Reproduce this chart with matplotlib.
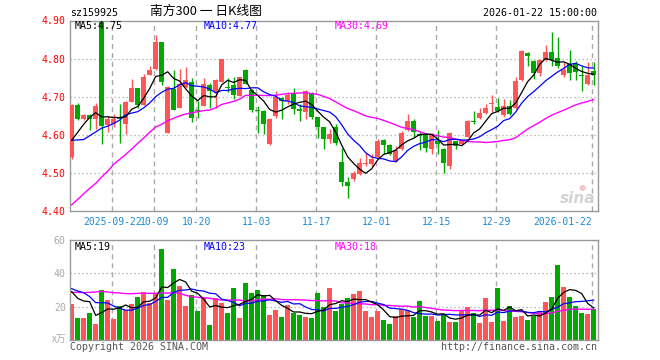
import matplotlib
matplotlib.use('Agg')
import matplotlib.pyplot as plt
import numpy as np
import pandas as pd

# ---------------- data ----------------
date_idx = [7, 14, 21, 31, 41, 51, 61, 71, 87]
date_labels = ['2025-09-22', '10-09', '10-20', '11-03', '11-17',
               '12-01', '12-15', '12-29', '2026-01-22']

open_ = [4.541, 4.679, 4.643, 4.652, 4.642, 4.895, 4.627, 4.628, 4.648, 4.628,
         4.687, 4.723, 4.679, 4.756, 4.774, 4.844, 4.604, 4.721, 4.672, 4.725,
         4.740, 4.666, 4.677, 4.731, 4.712, 4.738, 4.726, 4.730, 4.703, 4.769,
         4.718, 4.665, 4.664, 4.576, 4.649, 4.697, 4.690, 4.708, 4.667, 4.661,
         4.710, 4.646, 4.620, 4.589, 4.621, 4.530, 4.477, 4.485, 4.497, 4.525,
         4.525, 4.543, 4.587, 4.573, 4.530, 4.562, 4.614, 4.636, 4.602, 4.600,
         4.564, 4.583, 4.564, 4.519, 4.583, 4.577, 4.596, 4.636, 4.644, 4.657,
         4.680, 4.674, 4.652, 4.677, 4.671, 4.745, 4.815, 4.794, 4.762, 4.796,
         4.818, 4.803, 4.756, 4.787, 4.787, 4.757, 4.734, 4.767]
high = [4.680, 4.683, 4.655, 4.655, 4.683, 4.895, 4.650, 4.655, 4.681, 4.690,
        4.747, 4.723, 4.760, 4.782, 4.862, 4.844, 4.728, 4.769, 4.774, 4.778,
        4.749, 4.690, 4.749, 4.735, 4.747, 4.800, 4.749, 4.752, 4.752, 4.774,
        4.720, 4.677, 4.666, 4.644, 4.715, 4.700, 4.712, 4.723, 4.680, 4.718,
        4.712, 4.646, 4.620, 4.615, 4.628, 4.567, 4.490, 4.505, 4.540, 4.554,
        4.549, 4.589, 4.589, 4.576, 4.571, 4.610, 4.655, 4.642, 4.607, 4.605,
        4.604, 4.612, 4.566, 4.608, 4.585, 4.587, 4.640, 4.664, 4.672, 4.681,
        4.706, 4.697, 4.694, 4.692, 4.752, 4.822, 4.817, 4.796, 4.800, 4.835,
        4.870, 4.857, 4.791, 4.822, 4.795, 4.782, 4.791, 4.791]
low = [4.536, 4.640, 4.640, 4.614, 4.615, 4.576, 4.607, 4.620, 4.580, 4.602,
       4.687, 4.672, 4.679, 4.756, 4.770, 4.730, 4.604, 4.665, 4.672, 4.722,
       4.633, 4.645, 4.677, 4.672, 4.672, 4.738, 4.712, 4.694, 4.703, 4.734,
       4.660, 4.604, 4.602, 4.573, 4.645, 4.642, 4.680, 4.655, 4.637, 4.642,
       4.642, 4.592, 4.563, 4.578, 4.573, 4.466, 4.435, 4.479, 4.495, 4.518,
       4.516, 4.540, 4.549, 4.547, 4.528, 4.560, 4.610, 4.595, 4.560, 4.555,
       4.549, 4.549, 4.501, 4.512, 4.562, 4.573, 4.594, 4.628, 4.642, 4.654,
       4.659, 4.660, 4.646, 4.652, 4.668, 4.742, 4.782, 4.747, 4.755, 4.794,
       4.782, 4.775, 4.752, 4.743, 4.743, 4.715, 4.730, 4.730]
close = [4.679, 4.642, 4.652, 4.642, 4.677, 4.624, 4.643, 4.643, 4.642, 4.686,
         4.723, 4.679, 4.752, 4.769, 4.844, 4.738, 4.725, 4.665, 4.734, 4.743,
         4.644, 4.663, 4.734, 4.716, 4.743, 4.800, 4.724, 4.705, 4.752, 4.734,
         4.665, 4.663, 4.630, 4.642, 4.700, 4.690, 4.706, 4.668, 4.664, 4.715,
         4.646, 4.620, 4.589, 4.602, 4.580, 4.477, 4.466, 4.501, 4.527, 4.527,
         4.536, 4.583, 4.573, 4.549, 4.561, 4.604, 4.636, 4.607, 4.598, 4.565,
         4.602, 4.576, 4.527, 4.604, 4.570, 4.583, 4.636, 4.634, 4.657, 4.671,
         4.682, 4.664, 4.677, 4.655, 4.741, 4.820, 4.806, 4.763, 4.796, 4.818,
         4.796, 4.780, 4.769, 4.763, 4.765, 4.755, 4.756, 4.756]
volume = [21.6, 13.2, 13.2, 16.2, 9.6, 30.0, 24.0, 12.6, 20.4, 18.0,
          21.6, 25.8, 28.8, 22.0, 28.0, 54.6, 24.0, 42.6, 32.4, 20.4,
          27.0, 17.6, 25.0, 9.0, 25.0, 22.0, 16.0, 31.0, 13.0, 34.0,
          28.0, 30.0, 27.0, 15.0, 18.0, 14.0, 21.0, 16.0, 15.0, 14.0,
          13.0, 28.0, 20.0, 31.0, 17.4, 21.6, 25.2, 27.6, 29.4, 17.4,
          13.8, 17.4, 12.0, 9.6, 14.4, 18.4, 18.0, 13.8, 23.4, 14.4,
          14.4, 11.4, 15.0, 10.8, 10.8, 18.0, 19.8, 16.0, 10.2, 25.2,
          10.8, 31.2, 11.4, 20.4, 13.8, 14.4, 12.0, 14.4, 17.4, 22.8,
          25.8, 45.0, 31.8, 25.8, 20.4, 16.2, 15.6, 18.4]

# leading moving-average values (before a full window exists)
ma5_lead = [4.586, 4.607, 4.628, 4.646]
ma10_lead = [4.586, 4.587, 4.588, 4.598, 4.608, 4.618, 4.623, 4.630, 4.639]
ma30_lead = [4.417, 4.431, 4.446, 4.460, 4.473, 4.490, 4.505, 4.523, 4.536, 4.549,
             4.563, 4.578, 4.592, 4.607, 4.621, 4.628, 4.637, 4.644, 4.650, 4.655,
             4.658, 4.661, 4.664, 4.665, 4.671, 4.680, 4.684, 4.688, 4.694]
vma5_lead = [29.0, 25.0, 23.4, 23.0]
vma10_lead = [30.8, 29.4, 28.4, 26.0, 22.4, 22.4, 22.2, 20.4, 19.0]
vma30_lead = [28.6, 28.6, 28.4, 28.6, 28.8, 29.2, 28.8, 28.4, 28.2, 27.8,
              27.8, 28.0, 28.0, 28.0, 28.0, 28.2, 28.2, 28.4, 28.0, 26.8,
              26.0, 25.6, 25.4, 25.0, 24.4, 24.0, 24.0, 24.0, 24.0]

price_ticks = [4.40, 4.50, 4.60, 4.70, 4.80, 4.90]
vol_ticks = [20, 40, 60]


def moving_avg(values, n, lead):
    s = pd.Series(values, dtype=float).rolling(n).mean().to_numpy()
    s[:n - 1] = lead
    return s


# ---------------- figure ----------------
W, H = 660, 360
fig = plt.figure(figsize=(W / 100, H / 100), dpi=100)


def fx(x):
    return x / W


def fy(y):
    return 1 - y / H


mono = 'DejaVu Sans Mono'
RED = '#ff5555'
GREEN = '#00a800'
GRID = '#aaaaaa'
BORDER = '#999999'

left_px, right_px = 70, 597.5
axp = fig.add_axes([fx(left_px), fy(211.3), (right_px - left_px) / W, (211.3 - 20.5) / H])
axv = fig.add_axes([fx(left_px), fy(340), (right_px - left_px) / W, 100 / H])

n = len(close)
x = np.arange(n)
o = np.array(open_)
c = np.array(close)
hi = np.array(high)
lo = np.array(low)
colors = [RED if cc > oo else GREEN for oo, cc in zip(o, c)]

xmin, xmax = -0.28, -0.28 + (right_px - left_px) / 6.0

for ax in (axp, axv):
    ax.set_xlim(xmin, xmax)
    for sp in ax.spines.values():
        sp.set_color(BORDER)
        sp.set_linewidth(1.0)
    for d in date_idx:
        ax.axvline(d - 0.22, color=GRID, lw=1.0, linestyle=(0, (3.6, 2.9)), zorder=1)
    ax.tick_params(length=0)

# price panel
axp.set_ylim(4.40, 4.90)
for t in [4.50, 4.60, 4.70, 4.80]:
    axp.axhline(t, color=GRID, lw=0.9, linestyle=(0, (1, 2.2)), zorder=1)
axp.vlines(x, lo, hi, colors=colors, lw=1.0, zorder=2)
body_bottom = np.minimum(o, c)
body_h = np.maximum(np.abs(c - o), 0.0028)
axp.bar(x, body_h, bottom=body_bottom, width=0.8, color=colors, linewidth=0, zorder=3)

ma5 = moving_avg(close, 5, ma5_lead)
ma10 = moving_avg(close, 10, ma10_lead)
ma30 = moving_avg(close, 30, ma30_lead)
axp.plot(x, ma30, color='#ff00ff', lw=1.0, zorder=4)
axp.plot(x, ma10, color='#0000ff', lw=0.9, zorder=5)
axp.plot(x, ma5, color='#000000', lw=0.9, zorder=6)

axp.set_yticks(price_ticks)
axp.set_yticklabels([f'{t:.2f}' for t in price_ticks], color='#ff0000',
                    fontsize=7.1, family=mono)
axp.tick_params(axis='y', pad=3)
axp.set_xticks([d - 0.22 for d in date_idx])
axp.set_xticklabels(date_labels, color='#1a8ad4', fontsize=7.0, family=mono)
axp.tick_params(axis='x', pad=4)
lbls = axp.get_xticklabels()
lbls[-1].set_horizontalalignment('right')

# volume panel
axv.set_ylim(0, 60)
for t in [20, 40]:
    axv.axhline(t, color=GRID, lw=0.9, linestyle=(0, (1, 2.2)), zorder=1)
axv.bar(x, volume, width=0.82, color=colors, linewidth=0, zorder=2)
vma5 = moving_avg(volume, 5, vma5_lead)
vma10 = moving_avg(volume, 10, vma10_lead)
vma30 = moving_avg(volume, 30, vma30_lead)
axv.plot(x, vma30, color='#ff00ff', lw=1.0, zorder=4)
axv.plot(x, vma10, color='#0000ff', lw=0.9, zorder=5)
axv.plot(x, vma5, color='#000000', lw=0.9, zorder=6)
axv.set_xticks([])
axv.set_yticks(vol_ticks)
axv.set_yticklabels([str(t) for t in vol_ticks], color='#aaaaaa', fontsize=7.1, family=mono)
axv.tick_params(axis='y', pad=3)

# ---------------- texts ----------------
fig.text(fx(70), fy(12.5), 'sz159925', fontsize=7.2, family=mono, color='black',
         ha='left', va='center')
fig.text(fx(150), fy(11.5), '南方300 一 日K线图', fontsize=9.2,
         family=['Noto Sans CJK SC', 'DejaVu Sans'], color='black', ha='left', va='center')
fig.text(fx(597), fy(12.5), '2026-01-22 15:00:00', fontsize=7.2, family=mono,
         color='black', ha='right', va='center')

fig.text(fx(74.5), fy(26), 'MA5:4.75', fontsize=7.2, family=mono, color='black',
         ha='left', va='center', zorder=10)
fig.text(fx(204), fy(26), 'MA10:4.77', fontsize=7.2, family=mono, color='#0000ff',
         ha='left', va='center', zorder=10)
fig.text(fx(335), fy(26), 'MA30:4.69', fontsize=7.2, family=mono, color='#ff00ff',
         ha='left', va='center', zorder=10)

fig.text(fx(74.5), fy(246.5), 'MA5:19', fontsize=7.2, family=mono, color='black',
         ha='left', va='center', zorder=10)
fig.text(fx(204), fy(246.5), 'MA10:23', fontsize=7.2, family=mono, color='#0000ff',
         ha='left', va='center', zorder=10)
fig.text(fx(335), fy(246.5), 'MA30:18', fontsize=7.2, family=mono, color='#ff00ff',
         ha='left', va='center', zorder=10)

fig.text(fx(66), fy(339), 'x万', fontsize=7.0, family=['Noto Sans CJK SC', 'DejaVu Sans'],
         color='#aaaaaa', ha='right', va='center')
fig.text(fx(70), fy(346.5), 'Copyright 2026 SINA.COM', fontsize=7.2, family=mono,
         color='#555555', ha='left', va='center')
fig.text(fx(597), fy(346.5), 'http://finance.sina.com.cn', fontsize=7.2, family=mono,
         color='#555555', ha='right', va='center')

# sina watermark
fig.text(fx(595), fy(198), 'sina', fontsize=11, fontweight='bold', style='italic',
         family='DejaVu Sans', color='#d4d4d4', ha='right', va='center')
fig.text(fx(582), fy(187), '●', fontsize=6, color='#f2c8c8', ha='center', va='center')

fig.savefig('out.png', dpi=100)
